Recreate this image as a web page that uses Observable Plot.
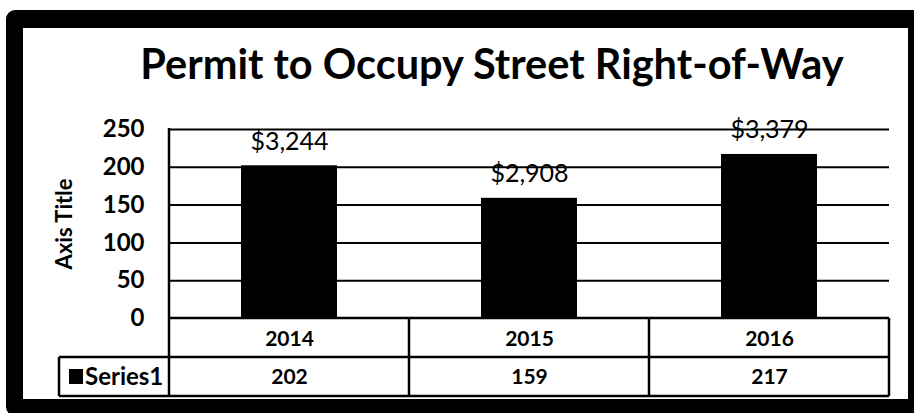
<!DOCTYPE html>
<html>
<head>
<meta charset="utf-8">
<script src="https://cdn.jsdelivr.net/npm/d3@7"></script>
<script src="https://cdn.jsdelivr.net/npm/@observablehq/plot@0.6"></script>
<style>
  html, body { margin: 0; padding: 0; background: #fff; overflow: hidden; }
  #chart { position: absolute; left: 0; top: 0; }
  #frame {
    position: absolute; left: 6px; top: 10px; width: 919px; height: 406px;
    box-sizing: border-box; border-style: solid; border-color: #000;
    border-width: 18px 17px 17px 17px; border-radius: 9px; pointer-events: none;
  }
</style>
</head>
<body>
<div id="chart"></div>
<div id="frame"></div>
<script>
const title = "Permit to Occupy Street Right-of-Way";
const axisTitle = "Axis Title";
const seriesName = "Series1";
const years = ["2014", "2015", "2016"];
const values = [202, 159, 217];
const amounts = ["$3,244", "$2,908", "$3,379"];
const yTicks = [0, 50, 100, 150, 200, 250];

const data = years.map((year, i) => ({year, value: values[i], amount: amounts[i]}));
const FONT = "Lato, 'Open Sans', sans-serif";

const chart = Plot.plot({
  width: 914,
  height: 413,
  marginTop: 129,
  marginBottom: 95,
  marginLeft: 168,
  marginRight: 25,
  style: {fontFamily: FONT, color: "#000", background: "#fff", overflow: "visible"},
  x: {domain: years, paddingInner: 0.6, paddingOuter: 0.3, axis: null},
  y: {domain: [0, 250], axis: null},
  marks: [
    Plot.gridY(yTicks.filter(d => d > 0), {stroke: "#000", strokeOpacity: 1, strokeWidth: 2}),
    Plot.barY(data, {x: "year", y: "value", fill: "#000"}),
    Plot.text(data, {x: "year", y: "value", text: "amount", dy: -24, fontSize: 25, fill: "#000"}),
    Plot.axisY(yTicks, {label: null, tickSize: 0, tickPadding: 24, fontSize: 24, fontWeight: "bold", fill: "#000"}),
    Plot.text([axisTitle], {frameAnchor: "left", textAnchor: "middle", lineAnchor: "middle", dx: -104, rotate: -90, fontSize: 22, fontWeight: "bold", fill: "#000"}),
    Plot.text([title], {frameAnchor: "top", lineAnchor: "top", dx: -37, dy: -80, fontSize: 41.5, fontWeight: "bold", fill: "#000"}),
    Plot.text(data, {x: "year", text: "year", frameAnchor: "bottom", lineAnchor: "middle", dy: 21, fontSize: 21, fontWeight: "bold", fill: "#000"}),
    Plot.text(data, {x: "year", text: d => String(d.value), frameAnchor: "bottom", lineAnchor: "middle", dy: 59, fontSize: 21, fontWeight: "bold", fill: "#000"})
  ]
});
document.getElementById("chart").appendChild(chart);

// Axis line and data table grid drawn from the chart's own scales
(function drawTable() {
  const xs = chart.scale("x");
  const ys = chart.scale("y");
  const step = xs.bandwidth / (1 - 0.6);
  const cellLeft = d => xs.apply(d) + xs.bandwidth / 2 - step / 2;
  const x0 = cellLeft(years[0]);
  const x1 = cellLeft(years[years.length - 1]) + step;
  const y0 = ys.apply(0);
  const yMax = ys.apply(yTicks[yTicks.length - 1]);
  const rowH = 39;
  const legendLeft = x0 - 110;
  const svg = d3.select(chart);
  const g = svg.append("g").attr("stroke", "#000").attr("stroke-width", 2.5);
  const line = (a, b, c, d) => g.append("line").attr("x1", a).attr("y1", b).attr("x2", c).attr("y2", d);
  line(x0, yMax - 1, x0, y0);
  line(x0, y0, x1, y0);
  line(legendLeft, y0 + rowH, x1, y0 + rowH);
  line(legendLeft, y0 + 2 * rowH, x1, y0 + 2 * rowH);
  line(legendLeft, y0 + rowH, legendLeft, y0 + 2 * rowH);
  years.forEach(d => { const cx = cellLeft(d); line(cx, y0, cx, y0 + 2 * rowH); });
  line(x1, y0, x1, y0 + 2 * rowH);
  const lg = svg.append("g");
  lg.append("rect").attr("x", legendLeft + 10).attr("y", y0 + rowH + 12).attr("width", 14).attr("height", 15).attr("fill", "#000");
  lg.append("text").attr("x", legendLeft + 26).attr("y", y0 + rowH + rowH / 2).attr("dy", "0.35em")
    .attr("text-anchor", "start")
    .attr("font-family", FONT).attr("font-size", 24).attr("font-weight", "bold").attr("fill", "#000").text(seriesName);
})();
</script>
</body>
</html>
